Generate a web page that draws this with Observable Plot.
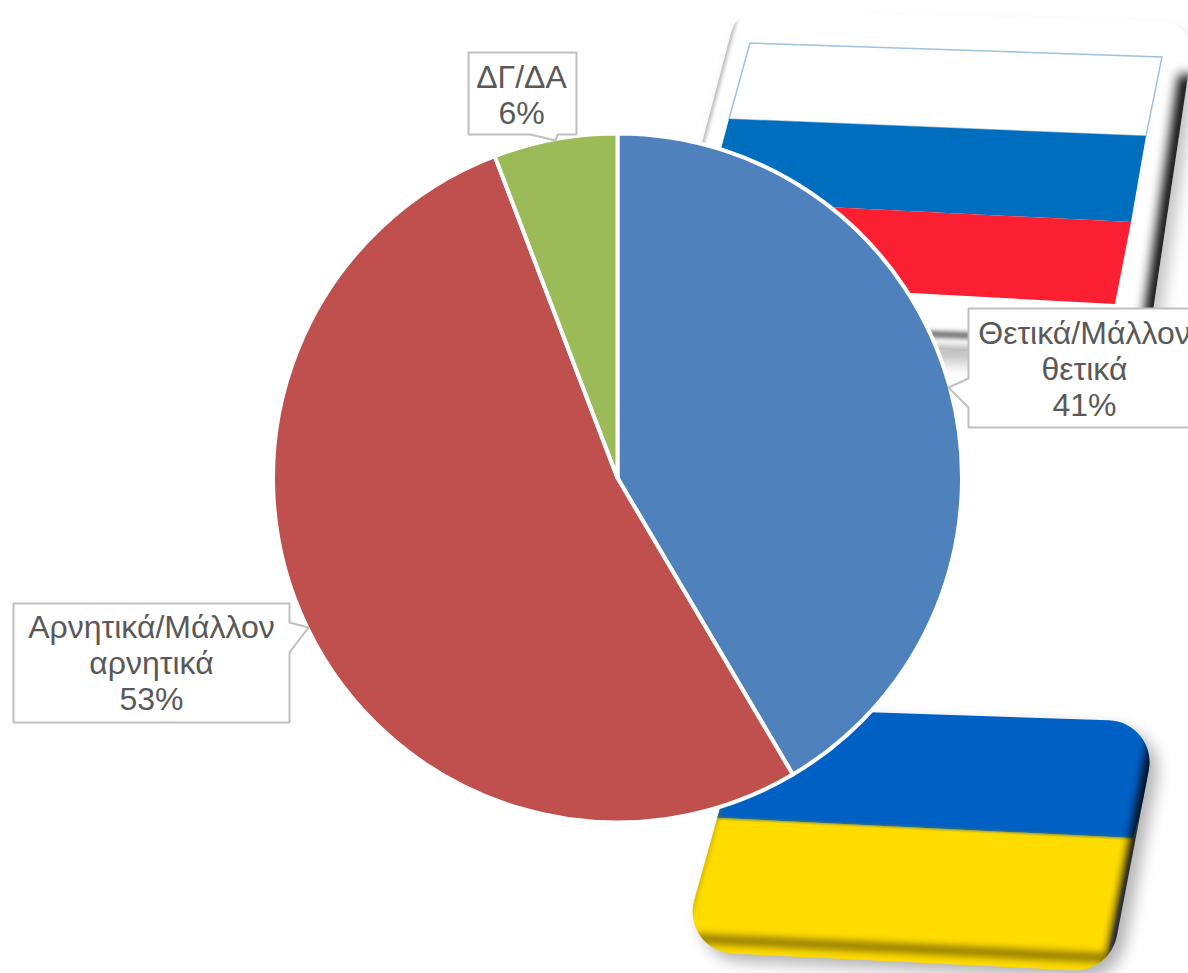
<!DOCTYPE html>
<html lang="el">
<head>
<meta charset="utf-8">
<script src="https://cdn.jsdelivr.net/npm/d3@7"></script>
<script src="https://cdn.jsdelivr.net/npm/@observablehq/plot@0.6"></script>
<style>
html,body{margin:0;padding:0;background:#fff;overflow:hidden}
svg{display:block}
</style>
</head>
<body>
<div id="chart"></div>
<script>
// Chart data
const categories = ["Θετικά/Μάλλον\nθετικά", "Αρνητικά/Μάλλον\nαρνητικά", "ΔΓ/ΔΑ"];
const shares = [41.5, 52.7, 5.8];
const shareLabels = ["41%", "53%", "6%"];
const sliceColors = ["#4F81BD", "#C0504D", "#9BBB59"];

// Pie placement, in the picture's coordinates
const pieCenter = [617.5, 478];
const pieRadius = 344.5;

// Callouts
const calloutAnchors = [[1084, 368], [151, 662], [521, 94]];
const calloutOutlines = [
  [[968,308],[1200,308],[1200,427],[968,427],[968,407],[948,387],[968,378],[968,308]],
  [[13,603],[289,603],[289,622],[308,627],[289,652],[289,722],[13,722],[13,603]],
  [[468,52],[576,52],[576,134],[557,134],[555,140],[530,134],[468,134],[468,52]]
];

// Flags
const russiaCard = [[737,10],[1196,22],[1146,358],[650,340]];
const russiaBevelRight = [[1187,75],[1146,358]];
const russiaStripes = [
  {fill:"#FFFFFF", corners:[[750,43],[1162,57],[1146,136],[729,119]]},
  {fill:"#006EBE", corners:[[729,119],[1146,136],[1131,222],[707,201]]},
  {fill:"#FA2032", corners:[[707,201],[1131,222],[1115,304],[685,281]]}
];
const ukraineShape = [[748,708],[1158,722],[1110,972],[680,951]];
const ukraineStripes = [
  {fill:"#0060C4", corners:[[740,690],[1170,705],[1133,838],[700,817]]},
  {fill:"#FFDC00", corners:[[700,817],[1133,838],[1100,990],[660,970]]}
];
const ukraineBevelBottom = [[680,938],[1108,958]];

const width = 1188, height = 973;

function rounded(points, r, x, y) {
  const p = d3.path();
  const pts = points.map(([a, b]) => [x(a), y(b)]);
  const n = pts.length;
  const first = pts[0], last = pts[n - 1];
  p.moveTo((first[0] + last[0]) / 2, (first[1] + last[1]) / 2);
  for (let i = 0; i < n; ++i) {
    const a = pts[i], b = pts[(i + 1) % n];
    p.arcTo(a[0], a[1], b[0], b[1], r);
  }
  p.closePath();
  return p.toString();
}
function poly(points, x, y, closed = true) {
  return "M" + points.map(([a, b]) => `${x(a)},${y(b)}`).join("L") + (closed ? "Z" : "");
}
function el(parent, name, attrs = {}) {
  const e = document.createElementNS("http://www.w3.org/2000/svg", name);
  for (const k in attrs) e.setAttribute(k, attrs[k]);
  parent.appendChild(e);
  return e;
}
function blurFilter(defs, id, s) {
  const f = el(defs, "filter", {id, filterUnits: "userSpaceOnUse", x: 0, y: 0, width, height});
  el(f, "feGaussianBlur", {stdDeviation: s});
}

function flagsMark(index, {x, y}) {
  const g = el(document.createElementNS("http://www.w3.org/2000/svg", "svg"), "g");
  const defs = el(g, "defs");
  blurFilter(defs, "b1", 1);
  blurFilter(defs, "b2", 2);
  blurFilter(defs, "b4", 4);
  blurFilter(defs, "b6", 6);
  blurFilter(defs, "b8", 8);
  const c1 = el(defs, "clipPath", {id: "clipRu"});
  el(c1, "path", {d: rounded(russiaCard, 30, x, y)});
  const c2 = el(defs, "clipPath", {id: "clipUa"});
  el(c2, "path", {d: rounded(ukraineShape, 42, x, y)});

  // Russia card
  el(g, "path", {d: rounded(russiaCard, 30, x, y), fill: "#000", opacity: .25, filter: "url(#b8)", transform: "translate(6,12)"});
  el(g, "path", {d: rounded(russiaCard, 30, x, y), fill: "#fff"});
  const ru = el(g, "g", {"clip-path": "url(#clipRu)"});
  const [tl, tr, br, bl] = russiaCard;
  el(ru, "path", {d: poly(russiaBevelRight, x, y, false), stroke: "#000", "stroke-width": 16, fill: "none", filter: "url(#b6)"});
  el(ru, "path", {d: poly([[br[0], br[1] - 16], [bl[0], bl[1] - 16]], x, y, false), stroke: "#777", "stroke-width": 7, fill: "none", filter: "url(#b2)"});
  el(ru, "path", {d: poly([br, bl], x, y, false), stroke: "#999", "stroke-width": 8, fill: "none", filter: "url(#b4)"});
  el(ru, "path", {d: poly([bl, tl], x, y, false), stroke: "#888", "stroke-width": 3, fill: "none", filter: "url(#b2)"});
  for (const s of russiaStripes) el(g, "path", {d: poly(s.corners, x, y), fill: s.fill, stroke: s.fill === "#FFFFFF" ? "#9CC2DC" : "none", "stroke-width": 1.5});

  // Ukraine plate
  el(g, "path", {d: rounded(ukraineShape, 42, x, y), fill: "#000", opacity: .3, filter: "url(#b8)", transform: "translate(8,8)"});
  const ua = el(g, "g", {"clip-path": "url(#clipUa)"});
  for (const s of ukraineStripes) el(ua, "path", {d: poly(s.corners, x, y), fill: s.fill});
  el(ua, "path", {d: poly([ukraineStripes[0].corners[3], ukraineStripes[0].corners[2]], x, y, false), stroke: "#5a7a50", "stroke-width": 1.5, fill: "none", filter: "url(#b1)"});
  const [utl, utr, ubr, ubl] = ukraineShape;
  el(ua, "path", {d: poly([utr, ubr], x, y, false), stroke: "#000", "stroke-width": 12, fill: "none", filter: "url(#b4)", opacity: .9});
  el(ua, "path", {d: poly(ukraineBevelBottom, x, y, false), stroke: "#5f5000", "stroke-width": 7, fill: "none", filter: "url(#b4)", opacity: .95});
  el(ua, "path", {d: poly([ubl, utl], x, y, false), stroke: "#8a7000", "stroke-width": 3, fill: "none", filter: "url(#b2)", opacity: .5});
  return g;
}

function pieMark(index, {x, y}) {
  const g = document.createElementNS("http://www.w3.org/2000/svg", "g");
  const cx = x(pieCenter[0]), cy = y(pieCenter[1]);
  const r = x(pieCenter[0] + pieRadius) - cx;
  const pie = d3.pie().sort(null)(shares);
  const arc = d3.arc().innerRadius(0).outerRadius(r);
  pie.forEach((d, i) => {
    el(g, "path", {
      d: arc(d), transform: `translate(${cx},${cy})`,
      fill: sliceColors[i], stroke: "#fff", "stroke-width": 4, "stroke-linejoin": "round",
      "aria-label": `${categories[i].replace("\n", " ")} ${shareLabels[i]}`
    });
  });
  return g;
}

const calloutRows = calloutOutlines.flatMap((pts, i) => pts.map(([px, py]) => ({i, px, py})));
const labelRows = categories.map((c, i) => ({
  text: `${c}\n${shareLabels[i]}`, px: calloutAnchors[i][0], py: calloutAnchors[i][1]
}));

const chart = Plot.plot({
  width, height,
  margin: 0,
  x: {domain: [0, width], range: [0, width], axis: null},
  y: {domain: [0, height], range: [0, height], axis: null},
  style: {fontFamily: "'Liberation Sans', Arial, sans-serif", background: "#fff", overflow: "hidden"},
  marks: [
    flagsMark,
    pieMark,
    Plot.line(calloutRows, {x: "px", y: "py", z: "i", fill: "#fff", stroke: "#BFBFBF", strokeWidth: 2, curve: "linear", strokeLinejoin: "miter"}),
    Plot.text(labelRows, {
      x: "px", y: "py", text: "text", fontSize: 32, fill: "#595959",
      textAnchor: "middle", lineAnchor: "middle", lineHeight: 36 / 32
    })
  ]
});
document.getElementById("chart").appendChild(chart);
</script>
</body>
</html>
